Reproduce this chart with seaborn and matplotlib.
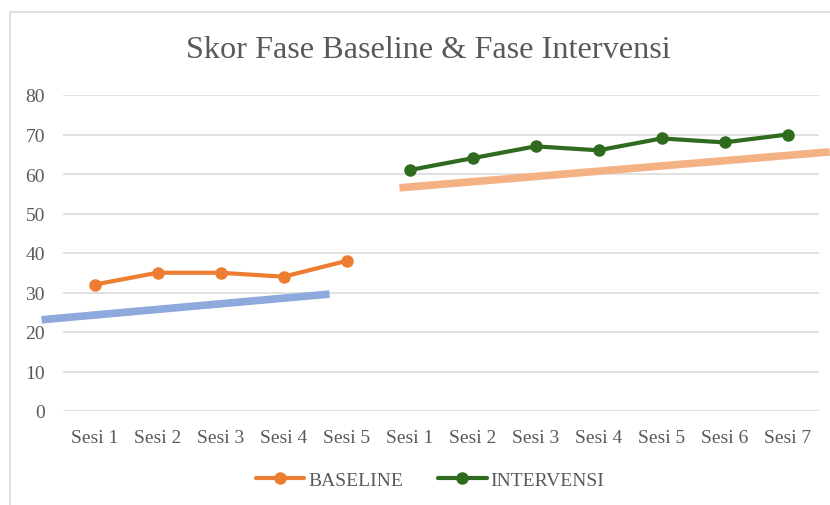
import matplotlib
matplotlib.use("Agg")
import matplotlib.pyplot as plt
from matplotlib.lines import Line2D
import seaborn as sns
import pandas as pd

# ---- data ----
baseline_labels = ["Sesi 1", "Sesi 2", "Sesi 3", "Sesi 4", "Sesi 5"]
intervensi_labels = ["Sesi 1", "Sesi 2", "Sesi 3", "Sesi 4", "Sesi 5", "Sesi 6", "Sesi 7"]
baseline_values = [32, 35, 35, 34, 38]
intervensi_values = [61, 64, 67, 66, 69, 68, 70]
# trend lines (drawn by hand in the source), in category-index / score units
trend_base_x = [-0.84, 3.73]
trend_base_y = [23.1, 29.6]
trend_int_x = [4.84, 11.67]
trend_int_y = [56.5, 65.6]
y_ticks = [0, 10, 20, 30, 40, 50, 60, 70, 80]
title = "Skor Fase Baseline & Fase Intervensi"

categories = baseline_labels + intervensi_labels
n_base = len(baseline_labels)
df = pd.DataFrame({
    "pos": list(range(len(categories))),
    "score": baseline_values + intervensi_values,
    "series": ["BASELINE"] * n_base + ["INTERVENSI"] * len(intervensi_labels),
})

sns.set_theme(style="white")
plt.rcParams["font.family"] = ["Liberation Serif", "DejaVu Serif"]

W, H = 830, 506
fig = plt.figure(figsize=(W / 100, H / 100), dpi=100)
left, right, top, bottom = 63, 819, 96, 412
ax = fig.add_axes([left / W, 1 - bottom / H, (right - left) / W, (bottom - top) / H])

grey = "#595959"
orange = "#ED7D31"
green = "#2F6B1F"

# trend lines
ax.plot(trend_base_x, trend_base_y, color="#8EA9DB", lw=5.5, solid_capstyle="butt",
        clip_on=False, zorder=2)
ax.plot(trend_int_x, trend_int_y, color="#F4B183", lw=5.5, solid_capstyle="butt",
        clip_on=False, zorder=2)

sns.lineplot(data=df, x="pos", y="score", hue="series",
             palette={"BASELINE": orange, "INTERVENSI": green},
             marker="o", markersize=9, markeredgewidth=0, linewidth=3,
             ax=ax, zorder=3, legend=False)

ax.set_xlim(-0.5, len(categories) - 0.5)
ax.set_ylim(0, 80)
ax.set_yticks(y_ticks)
ax.set_xticks(range(len(categories)))
ax.set_xticklabels(categories)
ax.set_xlabel("")
ax.set_ylabel("")
for s in ax.spines.values():
    s.set_visible(False)
ax.grid(axis="y", color="#D9D9D9", lw=1.1)
ax.set_axisbelow(True)
ax.tick_params(axis="both", length=0, labelsize=14, colors=grey)
ax.tick_params(axis="y", pad=13)
ax.tick_params(axis="x", pad=13)

fig.text(428 / W, 1 - 50 / H, title, ha="center", va="center", fontsize=23.2, color=grey)

handles = [
    Line2D([], [], color=orange, lw=3, marker="o", markersize=9, markeredgewidth=0),
    Line2D([], [], color=green, lw=3, marker="o", markersize=9, markeredgewidth=0),
]
fig.legend(handles, ["BASELINE", "INTERVENSI"], loc="center", bbox_to_anchor=(430 / W, 1 - 481 / H),
           ncol=2, frameon=False, fontsize=14, labelcolor=grey, handlelength=2.5,
           handletextpad=0.2, columnspacing=1.8)

# chart border (left and top visible)
fig.add_artist(Line2D([10 / W, 10 / W], [0, 1 - 13 / H], transform=fig.transFigure, color="#D9D9D9", lw=1.2))
fig.add_artist(Line2D([10 / W, 1], [1 - 13 / H, 1 - 13 / H], transform=fig.transFigure, color="#D9D9D9", lw=1.2))

fig.savefig("out.png", dpi=100, facecolor="white")
